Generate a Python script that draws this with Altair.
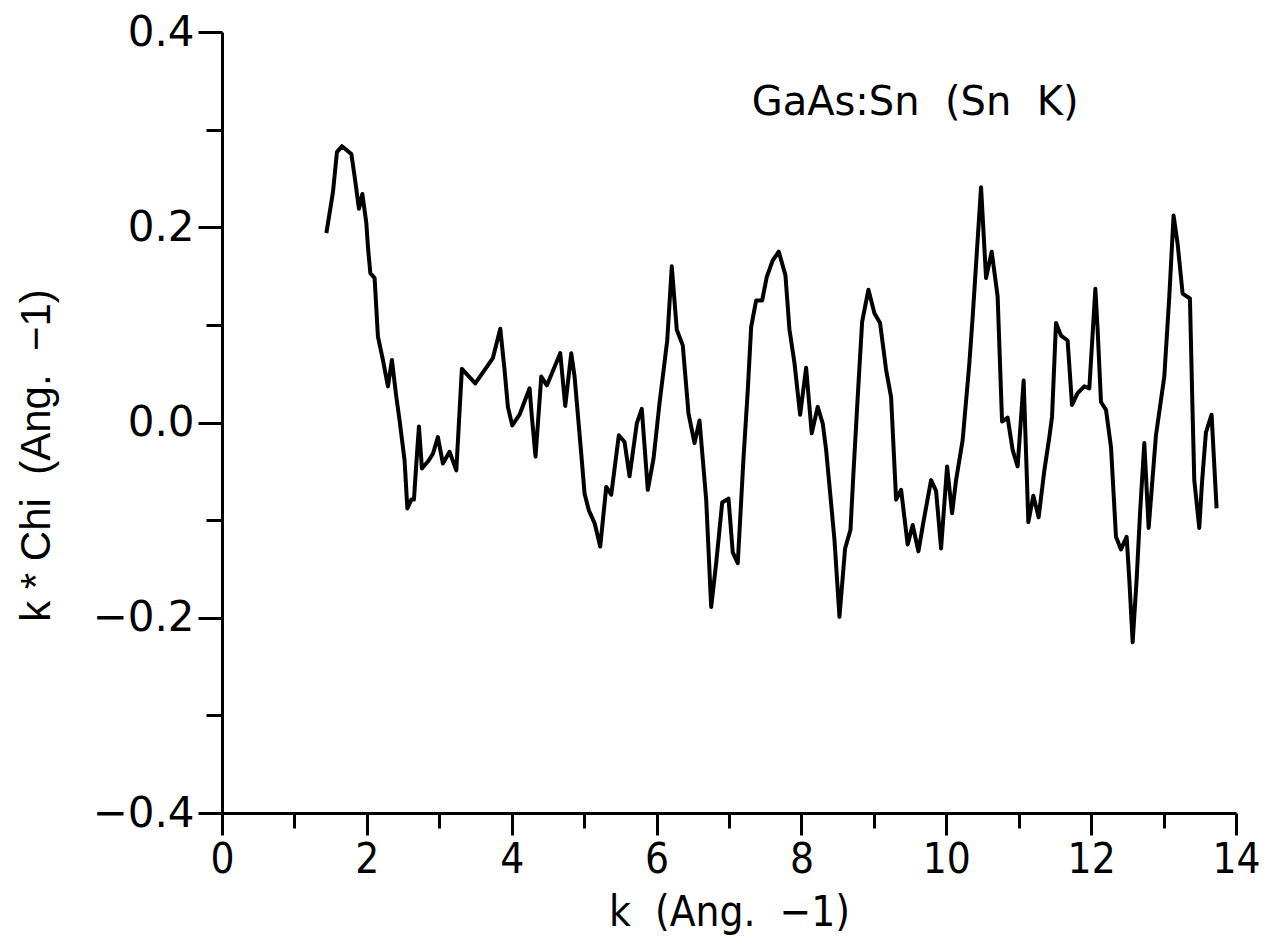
import altair as alt
import pandas as pd

k_values = [1.441, 1.532, 1.587, 1.656, 1.786, 1.831, 1.891, 1.938, 1.993, 2.015, 2.048, 2.107, 2.153,
            2.222, 2.291, 2.346, 2.407, 2.452, 2.521, 2.559, 2.614, 2.650, 2.683, 2.719, 2.760, 2.843,
            2.912, 2.981, 3.050, 3.142, 3.235, 3.312, 3.497, 3.740, 3.842, 3.901, 3.947, 4.008, 4.108,
            4.247, 4.278, 4.329, 4.408, 4.485, 4.670, 4.739, 4.822, 4.868, 4.960, 5.006, 5.065, 5.144,
            5.222, 5.305, 5.374, 5.479, 5.558, 5.627, 5.727, 5.796, 5.879, 5.958, 6.041, 6.086, 6.147,
            6.210, 6.279, 6.362, 6.441, 6.524, 6.593, 6.685, 6.754, 6.823, 6.906, 6.993, 7.052, 7.121,
            7.200, 7.259, 7.306, 7.375, 7.458, 7.521, 7.604, 7.687, 7.779, 7.835, 7.904, 7.982, 8.065,
            8.142, 8.225, 8.294, 8.341, 8.410, 8.456, 8.525, 8.603, 8.677, 8.718, 8.777, 8.838, 8.925,
            9.008, 9.086, 9.169, 9.238, 9.307, 9.376, 9.467, 9.536, 9.615, 9.684, 9.790, 9.859, 9.928,
            10.011, 10.080, 10.135, 10.226, 10.319, 10.364, 10.480, 10.549, 10.627, 10.709, 10.770,
            10.847, 10.916, 10.985, 11.068, 11.133, 11.202, 11.275, 11.354, 11.423, 11.460, 11.515,
            11.584, 11.675, 11.736, 11.813, 11.906, 11.975, 12.058, 12.089, 12.136, 12.205, 12.274,
            12.343, 12.412, 12.490, 12.527, 12.573, 12.628, 12.675, 12.734, 12.794, 12.895, 13.010,
            13.079, 13.138, 13.194, 13.263, 13.364, 13.401, 13.424, 13.493, 13.530, 13.585, 13.663,
            13.732]

chi_values = [0.194, 0.236, 0.277, 0.283, 0.275, 0.252, 0.219, 0.234, 0.204, 0.180, 0.153, 0.148, 0.088,
              0.064, 0.037, 0.064, 0.026, 0.002, -0.039, -0.088, -0.079, -0.079, -0.042, -0.004, -0.047,
              -0.040, -0.032, -0.015, -0.042, -0.030, -0.049, 0.055, 0.040, 0.066, 0.096, 0.054, 0.016,
              -0.003, 0.008, 0.035, 0.006, -0.035, 0.047, 0.038, 0.071, 0.017, 0.071, 0.047, -0.032,
              -0.073, -0.090, -0.103, -0.127, -0.066, -0.074, -0.013, -0.020, -0.055, -0.001, 0.014,
              -0.069, -0.037, 0.020, 0.047, 0.084, 0.160, 0.095, 0.079, 0.009, -0.021, 0.002, -0.079,
              -0.189, -0.144, -0.082, -0.078, -0.133, -0.144, -0.037, 0.033, 0.098, 0.125, 0.125, 0.149,
              0.166, 0.175, 0.151, 0.095, 0.061, 0.008, 0.056, -0.011, 0.016, -0.001, -0.028, -0.083,
              -0.120, -0.199, -0.129, -0.110, -0.052, 0.026, 0.103, 0.136, 0.112, 0.102, 0.054, 0.026,
              -0.079, -0.069, -0.125, -0.105, -0.132, -0.102, -0.059, -0.070, -0.129, -0.045, -0.093,
              -0.059, -0.018, 0.061, 0.108, 0.241, 0.148, 0.175, 0.129, 0.001, 0.005, -0.028, -0.045,
              0.043, -0.102, -0.075, -0.097, -0.049, -0.015, 0.006, 0.102, 0.089, 0.084, 0.018, 0.030,
              0.037, 0.035, 0.137, 0.096, 0.021, 0.013, -0.025, -0.117, -0.130, -0.117, -0.161, -0.225,
              -0.161, -0.093, -0.021, -0.108, -0.013, 0.047, 0.129, 0.212, 0.183, 0.132, 0.127, 0.009,
              -0.059, -0.108, -0.062, -0.010, 0.008, -0.088]

x_ticks = list(range(0, 15))
y_ticks = [-0.4, -0.3, -0.2, -0.1, 0.0, 0.1, 0.2, 0.3, 0.4]

label_text = ["GaAs:Sn\u00a0\u00a0(Sn\u00a0\u00a0K)"]
label_k = [9.57]
label_chi = [0.327]

df = pd.DataFrame({"k": k_values, "chi": chi_values})
lab = pd.DataFrame({"k": label_k, "chi": label_chi, "text": label_text})

x_scale = alt.Scale(domain=[0, 14], nice=False, zero=False)
y_scale = alt.Scale(domain=[-0.4, 0.4], nice=False, zero=False)

x_axis = alt.Axis(
    values=x_ticks,
    labelExpr="datum.value % 2 == 0 ? format(datum.value, 'd') : ''",
    title="k\u00a0\u00a0(Ang.\u00a0\u00a0\u22121)",
    grid=False,
    domainColor="black", domainWidth=3,
    tickColor="black", tickWidth=3,
    tickSize={"condition": {"test": "datum.value % 2 == 0", "value": 22}, "value": 15},
    labelFont="DejaVu Sans Condensed, Liberation Sans", labelFontSize=42, labelColor="black",
    labelPadding=4, labelFlush=False, labelOverlap=False,
    titleFont="DejaVu Sans Condensed, Liberation Sans", titleFontSize=42, titleFontWeight="normal",
    titleColor="black", titlePadding=12,
)

y_axis = alt.Axis(
    values=y_ticks,
    labelExpr="abs(round(datum.value * 10)) % 2 == 0 ? format(datum.value, '.1f') : ''",
    title="k\u00a0*\u00a0Chi\u00a0\u00a0(Ang.\u00a0\u00a0\u22121)",
    grid=False,
    domainColor="black", domainWidth=3,
    tickColor="black", tickWidth=3,
    tickSize={"condition": {"test": "abs(round(datum.value * 10)) % 2 == 0", "value": 24},
              "value": 16},
    labelFont="DejaVu Sans", labelFontSize=42, labelColor="black",
    labelPadding=4, labelFlush=False, labelOverlap=False,
    titleFont="Liberation Sans", titleFontSize=42, titleFontWeight="normal",
    titleColor="black", titlePadding=34, titleY=423,
)

line = alt.Chart(df).mark_line(color="black", strokeWidth=4, strokeJoin="round").encode(
    x=alt.X("k:Q", scale=x_scale, axis=x_axis),
    y=alt.Y("chi:Q", scale=y_scale, axis=y_axis),
)

text = alt.Chart(lab).mark_text(font="DejaVu Sans", fontSize=40, color="black",
                                align="center", baseline="middle").encode(
    x=alt.X("k:Q", scale=x_scale),
    y=alt.Y("chi:Q", scale=y_scale),
    text="text:N",
)

chart = (line + text).properties(
    width=1014, height=781,
    background="white",
    autosize=alt.AutoSizeParams(type="none"),
    padding={"left": 222, "top": 32, "right": 34, "bottom": 134},
).configure_view(stroke=None)

chart.save("out.html", embed_options={"renderer": "svg", "actions": False})
